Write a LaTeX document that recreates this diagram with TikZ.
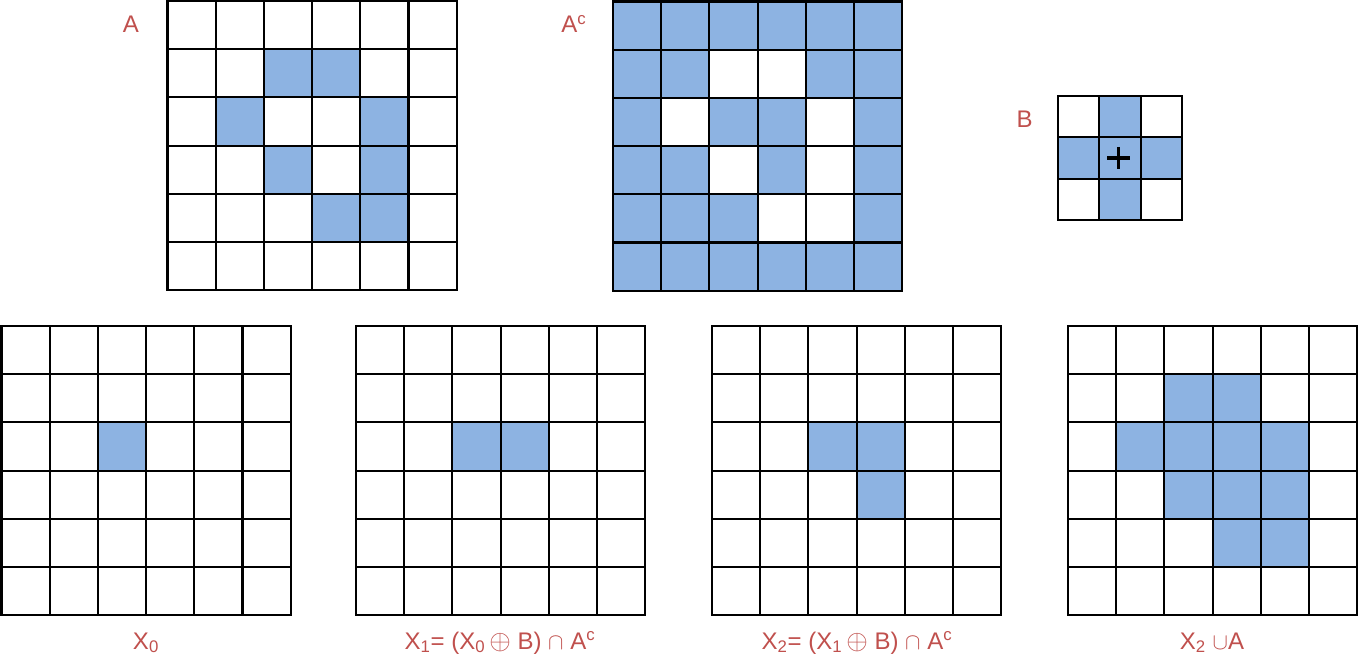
\documentclass[tikz,border=0pt]{standalone}
\usepackage{fontspec}
\setmainfont{Liberation Sans}
\definecolor{cellblue}{HTML}{8DB3E2}
\definecolor{labelred}{HTML}{C0504D}

% filled cells of a 6x6 (or nxn) grid: origin x, origin y, cell size, n, list of col/row
\newcommand{\cellgrid}[5]{%
  \foreach \c/\r in {#5}
    \fill[cellblue] ({#1+#3*\c},{#2+#3*\r}) rectangle ++(#3,#3);
  \foreach \i in {0,...,#4}{
    \draw[gridline] ({#1+#3*\i},#2) -- ({#1+#3*\i},{#2+#3*#4});
    \draw[gridline] (#1,{#2+#3*\i}) -- ({#1+#3*#4},{#2+#3*\i});
  }
  \draw[gridline] (#1,#2) rectangle ({#1+#3*#4},{#2+#3*#4});
}
\newcommand{\bigop}{{\fontsize{21}{21}\selectfont$\oplus$}}

\begin{document}
\begin{tikzpicture}[x=0.75pt,y=-0.75pt,
    gridline/.style={line width=1.6pt, line cap=rect},
    lbl/.style={text=labelred, anchor=base, inner sep=0pt, font=\fontsize{18}{21}\selectfont}]
  \useasboundingbox (0,0) rectangle (1360,670);

  % top row
  \cellgrid{167.5}{1}{48.2}{6}{2/1,3/1,1/2,4/2,2/3,4/3,3/4,4/4}
  \cellgrid{613}{1.5}{48.2}{6}{0/0,1/0,2/0,3/0,4/0,5/0,0/1,1/1,4/1,5/1,0/2,2/2,3/2,5/2,0/3,1/3,3/3,5/3,0/4,1/4,2/4,5/4,0/5,1/5,2/5,3/5,4/5,5/5}
  \cellgrid{1058}{96}{41.3}{3}{1/0,0/1,1/1,2/1,1/2}
  \draw[line width=2.3pt] (1107,158) -- (1130,158);
  \draw[line width=2.3pt] (1118.5,147) -- (1118.5,169);

  \node[lbl] (labelA) at (131,33) {A};
  \node[lbl] (labelAc) at (574,33) {A\textsuperscript{c}};
  \node[lbl] (labelB) at (1024.5,128) {B};

  % bottom row
  \cellgrid{1.5}{326}{48.2}{6}{2/2}
  \cellgrid{356}{326}{48.2}{6}{2/2,3/2}
  \cellgrid{712}{326}{48.2}{6}{2/2,3/2,3/3}
  \cellgrid{1068}{326}{48.2}{6}{2/1,3/1,1/2,2/2,3/2,4/2,2/3,3/3,4/3,3/4,4/4}

  \node[lbl] (labelX0) at (146,649) {X\textsubscript{0}};
  \node[lbl] (labelX1) at (500,649) {X\textsubscript{1}= (X\textsubscript{0}\,\bigop\ B) $\cap$ A\textsuperscript{c}};
  \node[lbl] (labelX2) at (857,649) {X\textsubscript{2}= (X\textsubscript{1}\,\bigop\ B) $\cap$ A\textsuperscript{c}};
  \node[lbl] (labelX3) at (1212,649) {X\textsubscript{2} $\cup$A};
\end{tikzpicture}
\end{document}
